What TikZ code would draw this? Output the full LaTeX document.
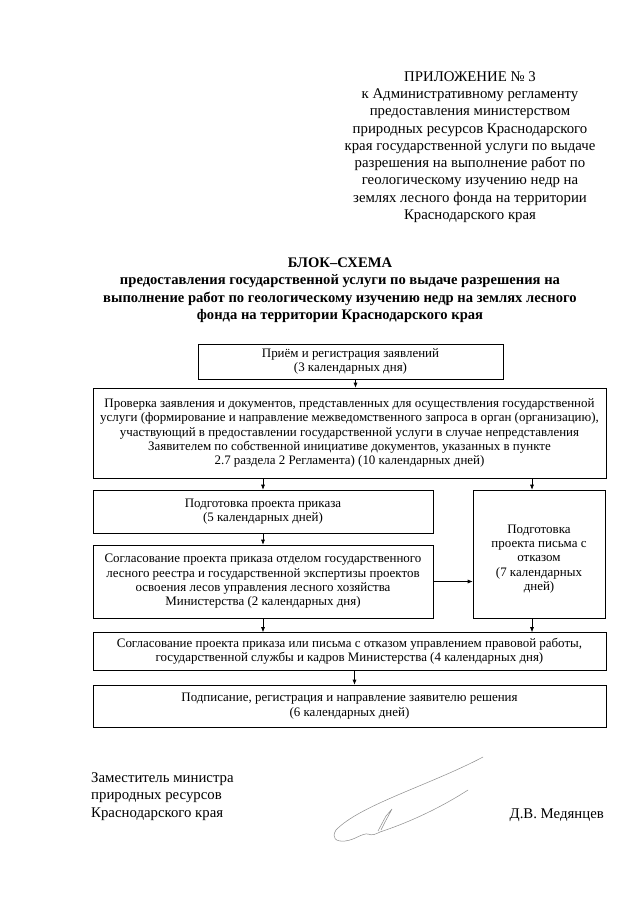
\documentclass[tikz,border=0pt]{standalone}
\usepackage{fontspec}
\setmainfont{Liberation Serif}
\usetikzlibrary{arrows.meta}
\newcommand{\boxfont}{\fontsize{12.95}{14.3}\selectfont}
\newcommand{\headfont}{\fontsize{14.8}{17.3}\selectfont}
\newcommand{\titlefont}{\fontsize{14.6}{17.5}\selectfont\bfseries}
\tikzset{
  flowbox/.style={draw=black, line width=0.6pt, inner sep=0pt, align=center, font=\boxfont, text=black},
  arr/.style={-{Latex[length=5pt,width=4pt]}, line width=0.6pt, draw=black},
  plain/.style={inner sep=0pt, align=center, text=black},
  sig/.style={draw=black!45, line width=0.5pt, line cap=round, line join=round}
}
\begin{document}
\begin{tikzpicture}[x=1pt,y=-1pt]
\useasboundingbox[fill=white] (0,0) rectangle (640,905);

% header
\node[plain, font=\headfont] (head) at (470,147) {ПРИЛОЖЕНИЕ № 3\\к Административному регламенту\\предоставления министерством\\природных ресурсов Краснодарского\\края государственной услуги по выдаче\\разрешения на выполнение работ по\\геологическому изучению недр на\\землях лесного фонда на территории\\Краснодарского края};

% title
\node[plain, font=\titlefont] (title) at (340,290) {БЛОК–СХЕМА\\предоставления государственной услуги по выдаче разрешения на\\выполнение работ по геологическому изучению недр на землях лесного\\фонда на территории Краснодарского края};

% boxes
\node[flowbox, minimum width=305pt, minimum height=35pt] (b1) at (350.5,361.5) {Приём и регистрация заявлений\\(3 календарных дня)};
\node[flowbox, minimum width=513pt, minimum height=90pt] (b2) at (349.5,433) {Проверка заявления и документов, представленных для осуществления государственной\\услуги (формирование и направление межведомственного запроса в орган (организацию),\\участвующий в предоставлении государственной услуги в случае непредставления\\Заявителем по собственной инициативе документов, указанных в пункте\\2.7 раздела 2 Регламента) (10 календарных дней)};
\node[flowbox, minimum width=340pt, minimum height=43pt] (b3) at (263,511.5) {Подготовка проекта приказа\\(5 календарных дней)};
\node[flowbox, minimum width=340pt, minimum height=73pt] (b4) at (263,581.5) {Согласование проекта приказа отделом государственного\\лесного реестра и государственной экспертизы проектов\\освоения лесов управления лесного хозяйства\\Министерства (2 календарных дня)};
\node[flowbox, minimum width=132pt, minimum height=128pt] (b5) at (539,554) {};
\node[plain, font=\boxfont] (b5t) at ([yshift=-5pt]b5.center) {Подготовка\\проекта письма с\\отказом\\(7 календарных\\дней)};
\node[flowbox, minimum width=513pt, minimum height=38pt] (b6) at (349.5,651.5) {Согласование проекта приказа или письма с отказом управлением правовой работы,\\государственной службы и кадров Министерства (4 календарных дня)};
\node[flowbox, minimum width=513pt, minimum height=42pt] (b7) at (349.5,706) {Подписание, регистрация и направление заявителю решения\\(6 календарных дней)};

% connectors
\draw[arr] ([xshift=5pt]b1.south) -- ([xshift=5pt]b1.south |- b2.north);
\draw[arr] (b3.north |- b2.south) -- (b3.north);
\draw[arr] ([xshift=-7pt]b5.north |- b2.south) -- ([xshift=-7pt]b5.north);
\draw[arr] (b3.south) -- (b4.north);
\draw[arr] (b4.east) -- (b4.east -| b5.west);
\draw[arr] (b4.south) -- (b4.south |- b6.north);
\draw[arr] ([xshift=-7pt]b5.south) -- ([xshift=-7pt]b5.south |- b6.north);
\draw[arr] ([xshift=5pt]b6.south) -- ([xshift=5pt]b6.south |- b7.north);

% signature block
\node[plain, align=left, anchor=west, font=\headfont] (post) at (91,796.5) {Заместитель министра\\природных ресурсов\\Краснодарского края};
\node[plain, anchor=east, font=\headfont] (name) at (604,815) {Д.В. Медянцев};

% handwritten signature
\draw[sig] (483,757) .. controls (430,785) and (360,805) .. (336,830)
  .. controls (331,838) and (336,842) .. (345,841)
  .. controls (355,840) and (362,833) .. (368,834)
  .. controls (372,836) and (376,834) .. (380,832);
\draw[sig] (378,831) -- (386,816) -- (392,809) -- (385,822) -- (381,830);
\draw[sig] (380,832) .. controls (410,822) and (440,808) .. (468,790);
\end{tikzpicture}
\end{document}
